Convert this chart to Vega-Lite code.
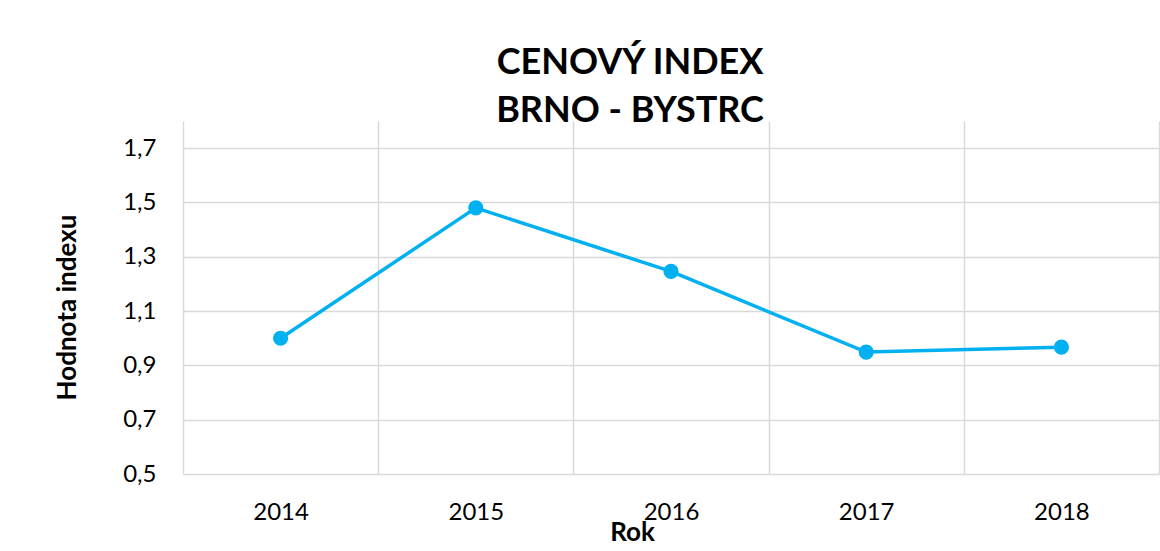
{
  "$schema": "https://vega.github.io/schema/vega-lite/v6.json",
  "autosize": {"type": "none"},
  "padding": {"left": 183, "top": 121, "right": 1, "bottom": 77},
  "width": 976,
  "height": 353,
  "background": "white",
  "title": {
    "text": ["CENOVÝ INDEX", "BRNO - BYSTRC"],
    "font": "Lato",
    "fontSize": 36,
    "fontWeight": "bold",
    "color": "black",
    "lineHeight": 48,
    "anchor": "middle",
    "frame": "group",
    "dx": -41,
    "offset": -9
  },
  "data": {
    "values": [
      {"year": "2014", "index": 1.0},
      {"year": "2015", "index": 1.48},
      {"year": "2016", "index": 1.246},
      {"year": "2017", "index": 0.949},
      {"year": "2018", "index": 0.967}
    ]
  },
  "encoding": {
    "x": {
      "field": "year",
      "type": "ordinal",
      "scale": {"type": "band", "paddingInner": 0, "paddingOuter": 0},
      "axis": {
        "title": "Rok",
        "titleFont": "Lato",
        "titleFontSize": 26,
        "titleFontWeight": "bold",
        "titleColor": "black",
        "titleX": 449,
        "titleY": 58,
        "titleBaseline": "middle",
        "labelFont": "Lato",
        "labelFontSize": 24,
        "labelColor": "black",
        "labelAngle": 0,
        "labelPadding": 26,
        "labelBaseline": "top",
        "tickBand": "extent",
        "grid": true,
        "gridColor": "#d9d9d9",
        "gridWidth": 1.5,
        "ticks": false,
        "tickSize": 0,
        "domain": false
      }
    },
    "y": {
      "field": "index",
      "type": "quantitative",
      "scale": {"domain": [0.5, 1.8], "nice": false, "zero": false},
      "axis": {
        "title": "Hodnota indexu",
        "titleFont": "Lato",
        "titleFontSize": 26,
        "titleFontWeight": "bold",
        "titleColor": "black",
        "titleX": -116,
        "titleY": 186,
        "titleAngle": -90,
        "titleBaseline": "middle",
        "titleAlign": "center",
        "values": [0.5, 0.7, 0.9, 1.1, 1.3, 1.5, 1.7],
        "labelExpr": "replace(format(datum.value, '.1f'), '.', ',')",
        "labelFont": "Lato",
        "labelFontSize": 24,
        "labelColor": "black",
        "labelPadding": 27,
        "grid": true,
        "gridColor": "#d9d9d9",
        "gridWidth": 1.5,
        "ticks": false,
        "tickSize": 0,
        "domain": false
      }
    }
  },
  "layer": [
    {"mark": {"type": "line", "color": "#00b0f0", "strokeWidth": 3.5}},
    {"mark": {"type": "point", "filled": true, "color": "#00b0f0", "opacity": 1, "size": 230}}
  ],
  "config": {"view": {"stroke": null}}
}
